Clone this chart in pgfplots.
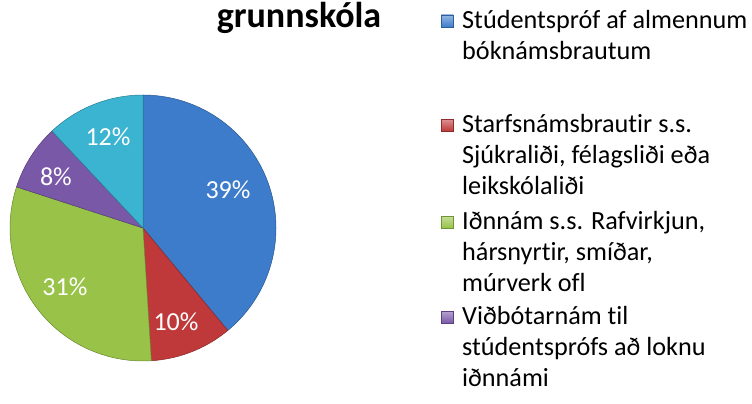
\documentclass[border=0pt]{standalone}
\usepackage{pgfplots}
\pgfplotsset{compat=1.18}
\usepackage{fontspec}
\setmainfont{Carlito}[Ligatures=NoCommon]
\definecolor{sblue}{HTML}{3D7CCB}
\definecolor{sred}{HTML}{C0393A}
\definecolor{sgreen}{HTML}{98C348}
\definecolor{spurple}{HTML}{7A58A8}
\definecolor{scyan}{HTML}{3BB4D1}

\newcommand{\legkey}[2]{% colour, baseline y
  \shade[top color=#1!55!white, bottom color=#1, draw=#1!75!black, line width=0.3bp]
    (441,#2+1) rectangle (453,#2+13);}

\begin{document}
\begin{tikzpicture}[x=1bp,y=1bp]
  \useasboundingbox (0,0) rectangle (752,403);

  \begin{axis}[
      at={(143bp,175bp)}, anchor=center,
      scale only axis, width=266bp, height=266bp,
      xmin=-1, xmax=1, ymin=-1, ymax=1,
      hide axis, clip=false,
    ]
    % slices: cumulative percent 0-39-49-80-88-100, clockwise from 12 o'clock
    \addplot[fill=sblue, draw=sblue!70!black, line width=0.5bp, domain=0:39, samples=90, variable=\p]
      ({cos(90-3.6*\p)}, {sin(90-3.6*\p)}) -- (0,0) -- cycle;
    \addplot[fill=sred, draw=sred!70!black, line width=0.5bp, domain=39:49, samples=30, variable=\p]
      ({cos(90-3.6*\p)}, {sin(90-3.6*\p)}) -- (0,0) -- cycle;
    \addplot[fill=sgreen, draw=sgreen!70!black, line width=0.5bp, domain=49:80, samples=70, variable=\p]
      ({cos(90-3.6*\p)}, {sin(90-3.6*\p)}) -- (0,0) -- cycle;
    \addplot[fill=spurple, draw=spurple!70!black, line width=0.5bp, domain=80:88, samples=30, variable=\p]
      ({cos(90-3.6*\p)}, {sin(90-3.6*\p)}) -- (0,0) -- cycle;
    \addplot[fill=scyan, draw=scyan!70!black, line width=0.5bp, domain=88:100, samples=30, variable=\p]
      ({cos(90-3.6*\p)}, {sin(90-3.6*\p)}) -- (0,0) -- cycle;

    \addplot[draw=none, nodes near coords, point meta=explicit symbolic,
      every node near coord/.append style={anchor=center, text=white,
        font=\fontsize{26bp}{29bp}\selectfont}]
      coordinates {
        (0.639,0.286) [39\%]
        (0.248,-0.707) [10\%]
        (-0.587,-0.444) [31\%]
        (-0.655,0.383) [8\%]
        (-0.263,0.684) [12\%]
      };
  \end{axis}

  % title (cut off in the source)
  \node[anchor=base, font=\fontsize{36bp}{40bp}\selectfont\bfseries] at (299,376) {grunnskóla};

  % legend
  \begin{scope}[every node/.style={anchor=base west, inner sep=0pt,
      font=\fontsize{26.2bp}{31bp}\selectfont}]
    \legkey{sblue}{375}
    \node at (462,375) {Stúdentspróf af almennum};
    \node at (462,344) {bóknámsbrautum};
    \legkey{sred}{271}
    \node at (462,271) {Starfsnámsbrautir s.s.};
    \node at (462,240) {Sjúkraliði, félagsliði eða};
    \node at (462,209) {leikskólaliði};
    \legkey{sgreen}{174}
    \node at (462,174) {Iðnnám s.s. Rafvirkjun,};
    \node at (462,143) {hársnyrtir, smíðar,};
    \node at (462,112) {múrverk ofl};
    \legkey{spurple}{79}
    \node at (462,79) {Viðbótarnám til};
    \node at (462,48) {stúdentsprófs að loknu};
    \node at (462,17) {iðnnámi};
  \end{scope}
\end{tikzpicture}
\end{document}
